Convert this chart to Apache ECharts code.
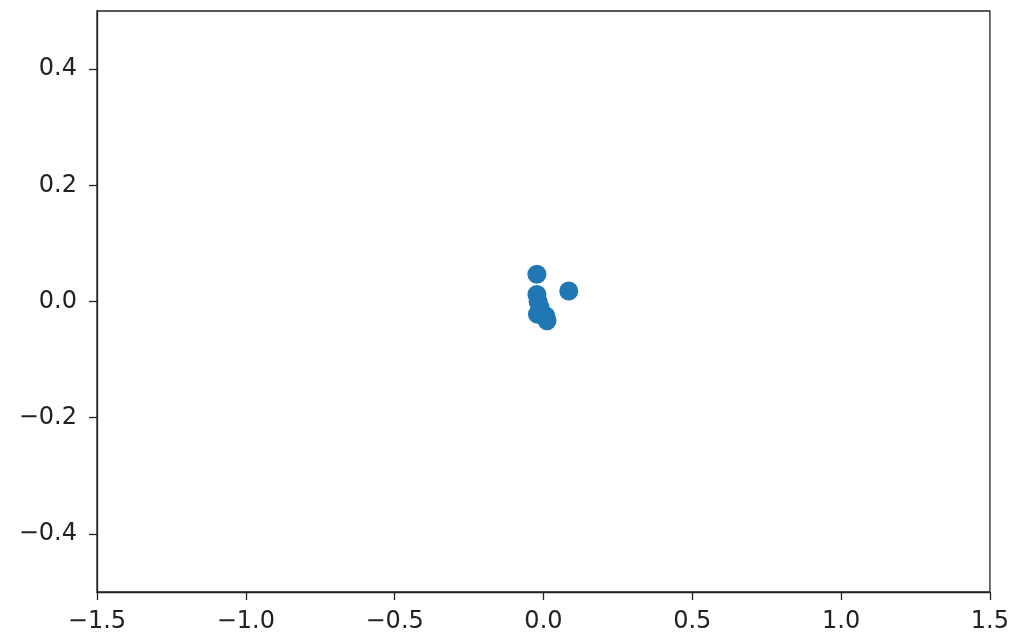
<!DOCTYPE html>
<html>
<head>
<meta charset="utf-8">
<script src="https://cdn.jsdelivr.net/npm/echarts@6/dist/echarts.min.js"></script>
<style>
  html, body { margin: 0; padding: 0; background: #fff; }
  #chart { width: 1012px; height: 635px; }
</style>
</head>
<body>
<div id="chart"></div>
<script>
// Point coordinates of the scatter cloud
const xValues = [-0.022, 0.085, -0.022, -0.018, -0.020, -0.005, 0.008, 0.012, -0.012];
const yValues = [0.047, 0.018, 0.012, 0.000, -0.022, -0.020, -0.025, -0.033, -0.010];

// Axis ranges and tick positions
const xTicks = [-1.5, -1.0, -0.5, 0.0, 0.5, 1.0, 1.5];
const yTicks = [-0.4, -0.2, 0.0, 0.2, 0.4];

const fmt = v => {
  const s = Math.abs(v).toFixed(1);
  return v < -1e-9 ? '\u2212' + s : s;
};

const points = xValues.map((x, i) => [x, yValues[i]]);

const textStyle = { fontFamily: 'DejaVu Sans', fontSize: 24, color: '#222' };

const chart = echarts.init(document.getElementById('chart'), null, { renderer: 'canvas' });
chart.setOption({
  animation: false,
  backgroundColor: '#fff',
  grid: {
    left: 97, right: 19, top: 11, bottom: 43,
    show: true, borderColor: '#222', borderWidth: 1.3, backgroundColor: 'transparent'
  },
  xAxis: {
    type: 'value', min: -1.5, max: 1.5, interval: 0.5,
    axisLine: { show: true, onZero: false, lineStyle: { color: '#222', width: 1.3 } },
    axisTick: { show: true, length: 8, lineStyle: { color: '#222', width: 1.3 }, customValues: xTicks },
    axisLabel: Object.assign({ margin: 18, formatter: fmt, customValues: xTicks }, textStyle),
    splitLine: { show: false }
  },
  yAxis: {
    type: 'value', min: -0.5, max: 0.5,
    axisLine: { show: true, onZero: false, lineStyle: { color: '#222', width: 1.3 } },
    axisTick: { show: true, length: 8, lineStyle: { color: '#222', width: 1.3 }, customValues: yTicks },
    axisLabel: Object.assign({ margin: 20, formatter: fmt, customValues: yTicks }, textStyle),
    splitLine: { show: false }
  },
  series: [{
    type: 'scatter',
    data: points,
    symbol: 'circle',
    symbolSize: 19,
    itemStyle: { color: '#1f77b4', opacity: 1 }
  }]
});
</script>
</body>
</html>
